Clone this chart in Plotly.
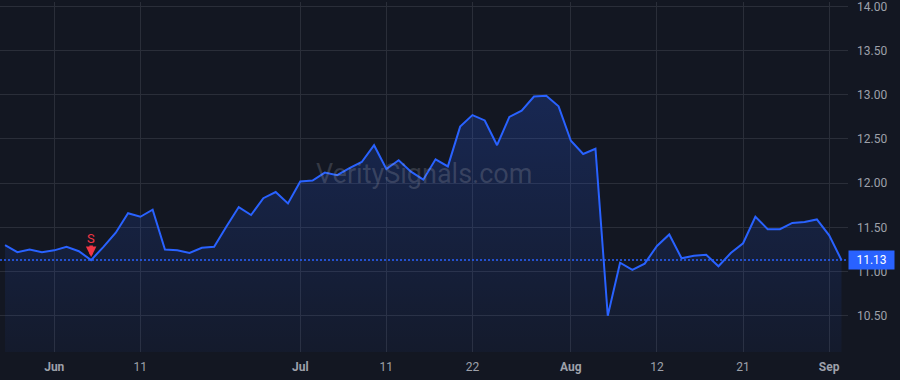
import plotly.graph_objects as go

# Trading days (2025-05-27 .. 2025-09-03)
dates = (
    ["2025-05-%02d" % d for d in [27, 28, 29, 30]]
    + ["2025-06-%02d" % d for d in [2, 3, 4, 5, 6, 9, 10, 11, 12, 13, 16, 17, 18, 20, 23, 24, 25, 26, 27, 30]]
    + ["2025-07-%02d" % d for d in [1, 2, 3, 7, 8, 9, 10, 11, 14, 15, 16, 17, 18, 21, 22, 23, 24, 25, 28, 29, 30, 31]]
    + ["2025-08-%02d" % d for d in [1, 4, 5, 6, 7, 8, 11, 12, 13, 14, 15, 18, 19, 20, 21, 22, 25, 26, 27, 28, 29]]
    + ["2025-09-%02d" % d for d in [2, 3]]
)

prices = [
    11.30, 11.22, 11.25, 11.22, 11.24, 11.28, 11.23, 11.13, 11.28, 11.44,
    11.66, 11.62, 11.70, 11.25, 11.24, 11.21, 11.27, 11.28, 11.51, 11.73,
    11.64, 11.83, 11.90, 11.77, 12.02, 12.03, 12.12, 12.09, 12.17, 12.24,
    12.43, 12.16, 12.26, 12.13, 12.04, 12.27, 12.19, 12.64, 12.77, 12.71,
    12.43, 12.75, 12.82, 12.98, 12.99, 12.87, 12.48, 12.33, 12.39, 10.50,
    11.10, 11.02, 11.09, 11.29, 11.42, 11.15, 11.18, 11.19, 11.06, 11.21,
    11.32, 11.62, 11.48, 11.48, 11.55, 11.56, 11.59, 11.41, 11.13,
]

tick_dates = ["2025-06-02", "2025-06-11", "2025-07-01", "2025-07-11", "2025-07-22",
              "2025-08-01", "2025-08-12", "2025-08-21", "2025-09-02"]
tick_text = ["<b>Jun</b>", "11", "<b>Jul</b>", "11", "22", "<b>Aug</b>", "12", "21", "<b>Sep</b>"]

y_ticks = [10.5, 11.0, 11.5, 12.0, 12.5, 13.0, 13.5, 14.0]

signal_index = 7
signal_label = "S"
last_price = prices[-1]
watermark = "VeritySignals.com"

BG = "#131722"
GRID = "#2a2e39"
BLUE = "#2962FF"
RED = "#f23645"
TXT = "#9ea1aa"
FONT = "Roboto, Inter, Liberation Sans, sans-serif"

fig = go.Figure()
fig.add_trace(go.Scatter(
    x=dates, y=prices, mode="lines",
    line=dict(color=BLUE, width=2),
    fill="tozeroy",
    fillgradient=dict(
        type="vertical",
        start=10.0, stop=13.0,
        colorscale=[[0, "rgba(41,98,255,0.04)"], [1, "rgba(41,98,255,0.22)"]],
    ),
    hoverinfo="skip", showlegend=False,
))

fig.update_layout(
    width=900, height=380,
    margin=dict(l=0, r=52, t=0, b=28),
    paper_bgcolor=BG, plot_bgcolor=BG,
    font=dict(family=FONT, color=TXT, size=12),
    showlegend=False,
    xaxis=dict(
        type="category",
        range=[-0.41, 68.53],
        tickmode="array", tickvals=tick_dates, ticktext=tick_text,
        showgrid=True, gridcolor=GRID, gridwidth=1,
        zeroline=False, showline=False, ticks="",
        ticklabelstandoff=6,
        tickfont=dict(size=12, color=TXT),
    ),
    yaxis=dict(
        side="right",
        range=[10.09, 14.05],
        tickmode="array", tickvals=y_ticks,
        tickformat=".2f",
        showgrid=True, gridcolor=GRID, gridwidth=1,
        zeroline=False, showline=False, ticks="",
        ticklabelstandoff=8,
        ticklabeloverflow="allow",
        tickfont=dict(size=12, color=TXT),
    ),
)

# dotted last-price line
fig.add_shape(type="line", xref="paper", x0=0, x1=1, yref="y", y0=last_price, y1=last_price,
              line=dict(color=BLUE, width=1.5, dash="2px,2px"))

# last price badge
fig.add_annotation(xref="paper", x=1, xanchor="left", yref="y", y=last_price, yanchor="middle",
                   text="%.2f" % last_price, showarrow=False, bgcolor=BLUE,
                   font=dict(color="white", size=12, family=FONT),
                   width=41, borderpad=2, align="center")

# sell signal marker: label + arrow
fig.add_annotation(x=dates[signal_index], y=prices[signal_index], text=signal_label,
                   showarrow=False, yshift=22,
                   font=dict(color=RED, size=13, family=FONT))
fig.add_annotation(x=dates[signal_index], y=prices[signal_index], text="",
                   showarrow=True, ax=0, ay=-16, arrowcolor=RED, arrowwidth=3.5,
                   arrowhead=2, arrowsize=0.6, standoff=3)

# watermark
fig.add_annotation(xref="paper", yref="paper", x=0.5, y=0.508, text=watermark,
                   showarrow=False, font=dict(size=27, color="rgba(178,181,190,0.22)", family=FONT))

fig.write_html("out.html")
